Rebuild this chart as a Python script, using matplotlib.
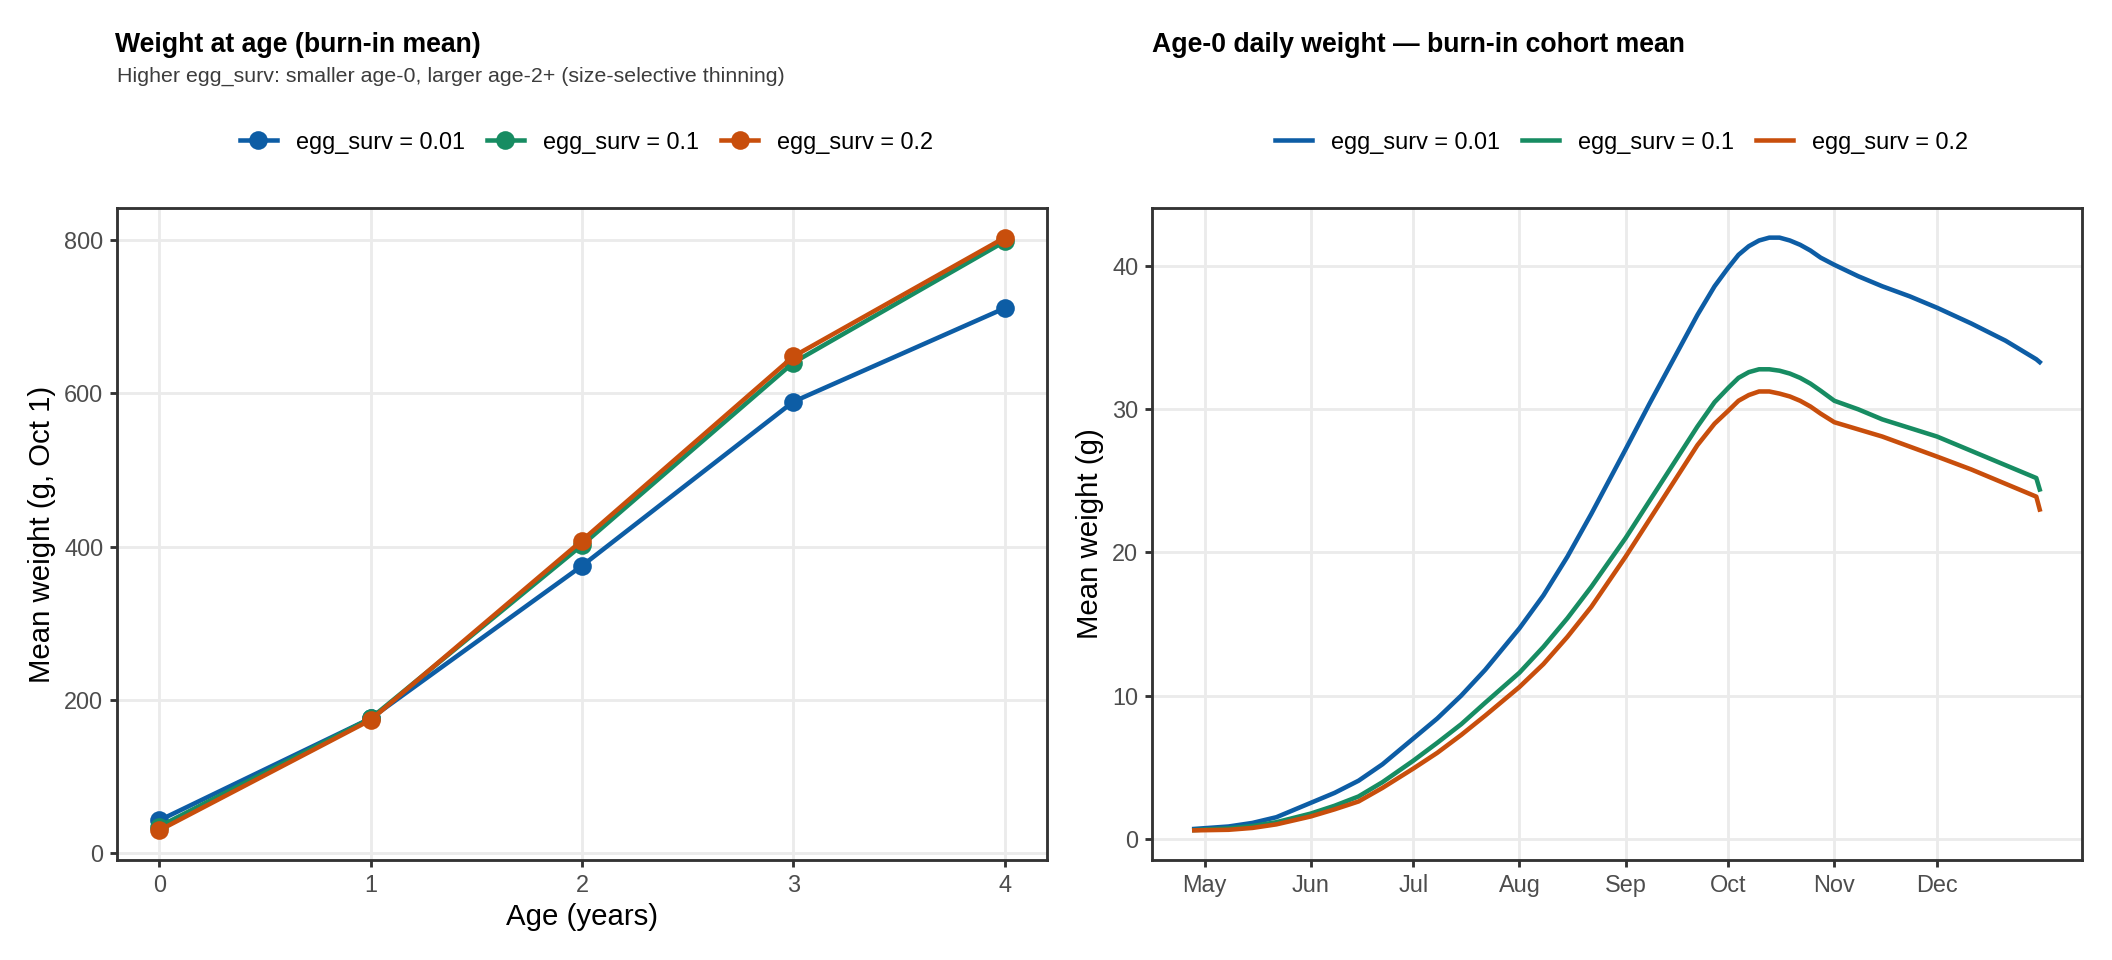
import matplotlib
matplotlib.use("Agg")
import matplotlib.pyplot as plt
from matplotlib.lines import Line2D

plt.rcParams['font.family'] = ['Liberation Sans', 'DejaVu Sans']

# ---------------- data ----------------
series_labels = ["egg_surv = 0.01", "egg_surv = 0.1", "egg_surv = 0.2"]
colors = ["#0D5DA5", "#178C62", "#C84E0C"]

ages = [0, 1, 2, 3, 4]
w_age_001 = [43, 176, 375, 589, 711]
w_age_01 = [35, 176, 402, 640, 798]
w_age_02 = [30, 174, 408, 648, 803]

# day of year (non-leap): May 1 = 121 ... Dec 31 = 365
doy = [118, 128, 135, 142, 152, 159, 166, 173, 182, 189, 196, 203, 213, 220,
       227, 234, 244, 251, 258, 265, 270, 274, 277, 280, 283, 286, 289, 292,
       295, 298, 301, 305, 312, 319, 327, 335, 345, 355, 364, 365]
daily_001 = [0.68, 0.85, 1.1, 1.5, 2.5, 3.2, 4.05, 5.2, 7.0, 8.4, 10.0, 11.8, 14.7, 17.0,
             19.7, 22.7, 27.2, 30.4, 33.5, 36.6, 38.6, 39.9, 40.8, 41.4, 41.8, 42.0, 42.0, 41.8,
             41.5, 41.1, 40.6, 40.1, 39.3, 38.6, 37.9, 37.1, 36.0, 34.8, 33.5, 33.3]
daily_01 = [0.6, 0.72, 0.88, 1.15, 1.75, 2.3, 2.95, 3.95, 5.45, 6.7, 8.0, 9.5, 11.6, 13.4,
            15.4, 17.6, 21.0, 23.6, 26.2, 28.8, 30.5, 31.5, 32.2, 32.6, 32.8, 32.8, 32.7, 32.5,
            32.2, 31.8, 31.3, 30.6, 30.0, 29.3, 28.7, 28.1, 27.1, 26.1, 25.2, 24.4]
daily_02 = [0.58, 0.62, 0.75, 1.0, 1.55, 2.05, 2.6, 3.55, 4.9, 6.0, 7.25, 8.6, 10.6, 12.2,
            14.1, 16.2, 19.7, 22.3, 24.9, 27.5, 29.0, 29.9, 30.6, 31.0, 31.25, 31.25, 31.1, 30.9,
            30.6, 30.2, 29.7, 29.1, 28.6, 28.1, 27.4, 26.7, 25.8, 24.8, 23.9, 23.0]

month_ticks = [121, 152, 182, 213, 244, 274, 305, 335]
month_labels = ["May", "Jun", "Jul", "Aug", "Sep", "Oct", "Nov", "Dec"]
age_ticks = [0, 1, 2, 3, 4]
w_ticks = [0, 200, 400, 600, 800]
d_ticks = [0, 10, 20, 30, 40]

# ---------------- figure ----------------
W, H = 2112, 960
fig = plt.figure(figsize=(11, 5), dpi=192)
ax1 = fig.add_axes([117 / W, 100 / H, 930 / W, 652 / H])
ax2 = fig.add_axes([1152 / W, 100 / H, 930 / W, 652 / H])

LW_GRID = 1.07
LW_DATA = 1.7
for ax in (ax1, ax2):
    ax.grid(True, color="#EBEBEB", lw=LW_GRID)
    ax.set_axisbelow(True)
    for s in ax.spines.values():
        s.set_color("#333333")
        s.set_linewidth(LW_GRID)
    ax.tick_params(length=2.75, width=LW_GRID, color="#333333",
                   labelcolor="#4D4D4D", labelsize=8.8, pad=2.4)
    ax.margins(0.05)

# left panel
for ys, c in zip([w_age_001, w_age_01, w_age_02], colors):
    ax1.plot(ages, ys, color=c, lw=LW_DATA, marker="o", ms=7, mew=0, zorder=3)
ax1.set_xticks(age_ticks)
ax1.set_yticks(w_ticks)
ax1.set_xlabel("Age (years)", fontsize=11, color="black", labelpad=2.5)
ax1.set_ylabel("Mean weight (g, Oct 1)", fontsize=11, color="black", labelpad=3)

# right panel
for ys, c in zip([daily_001, daily_01, daily_02], colors):
    ax2.plot(doy, ys, color=c, lw=LW_DATA, zorder=3, solid_joinstyle="round")
ax2.set_xticks(month_ticks)
ax2.set_xticklabels(month_labels)
ax2.set_yticks(d_ticks)
ax2.set_ylabel("Mean weight (g)", fontsize=11, color="black", labelpad=3)

# titles
fig.text(115 / W, 1 - 51.7 / H, "Weight at age (burn-in mean)", fontsize=10,
         fontweight="bold", va="baseline", ha="left")
fig.text(117 / W, 1 - 82 / H,
         "Higher egg_surv: smaller age-0, larger age-2+ (size-selective thinning)",
         fontsize=8, color="#3C3C3C", va="baseline", ha="left")
fig.text(1152 / W, 1 - 51.7 / H, "Age-0 daily weight \u2014 burn-in cohort mean", fontsize=10,
         fontweight="bold", va="baseline", ha="left")

# legends
h1 = [Line2D([], [], color=c, lw=LW_DATA, marker="o", ms=7, mew=0) for c in colors]
h2 = [Line2D([], [], color=c, lw=LW_DATA) for c in colors]
common = dict(loc="center", ncol=3, frameon=False, fontsize=8.8, handlelength=1.58,
              handletextpad=0.81, columnspacing=0.95, borderpad=0, borderaxespad=0)
fig.legend(h1, series_labels, bbox_to_anchor=(586.5 / W, 1 - 142 / H), **common)
fig.legend(h2, series_labels, bbox_to_anchor=(1621.5 / W, 1 - 142 / H), **common)

fig.savefig("out.png", dpi=192)
